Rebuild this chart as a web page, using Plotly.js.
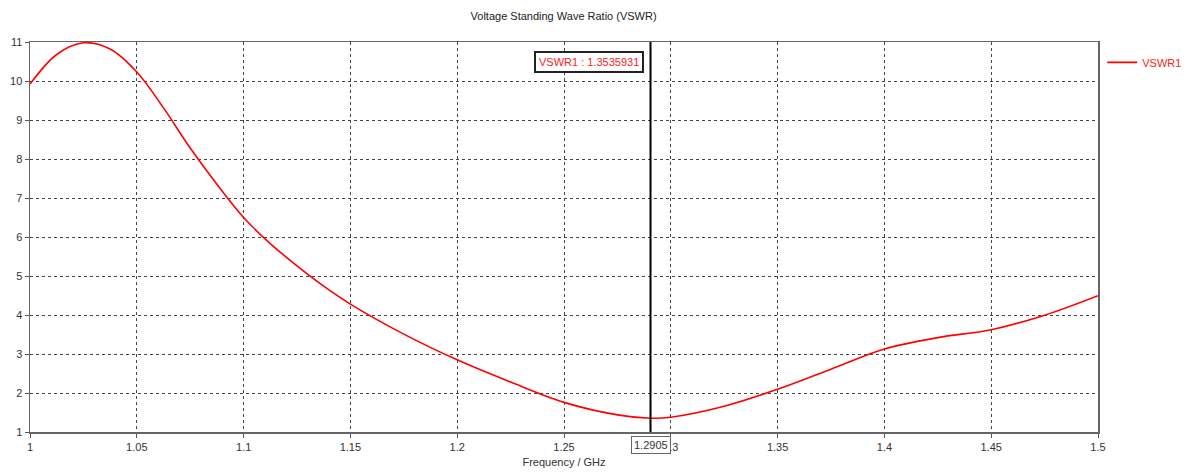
<!DOCTYPE html>
<html>
<head>
<meta charset="utf-8">
<script src="https://cdn.plot.ly/plotly-3.0.1.min.js"></script>
<style>html,body{margin:0;padding:0;background:#fff;}#chart{width:1189px;height:472px;}</style>
</head>
<body>
<div id="chart"></div>
<script>
const freq = [1.0, 1.0125, 1.025, 1.0375, 1.05, 1.0625, 1.075, 1.0875, 1.1, 1.1125, 1.125, 1.1375, 1.15, 1.175, 1.2, 1.225, 1.25, 1.275, 1.2905, 1.3, 1.325, 1.35, 1.375, 1.4, 1.425, 1.45, 1.475, 1.5];
const vswr = [9.92, 10.68, 10.98, 10.82, 10.23, 9.31, 8.28, 7.35, 6.5, 5.83, 5.26, 4.74, 4.28, 3.51, 2.85, 2.28, 1.76, 1.44, 1.354, 1.38, 1.66, 2.095, 2.61, 3.128, 3.42, 3.624, 3.995, 4.495];
const xTicks = [1, 1.05, 1.1, 1.15, 1.2, 1.25, 1.3, 1.35, 1.4, 1.45, 1.5];
const xTickText = ["1", "1.05", "1.1", "1.15", "1.2", "1.25", "1.3", "1.35", "1.4", "1.45", "1.5"];
const yTicks = [1, 2, 3, 4, 5, 6, 7, 8, 9, 10, 11];
const markerFreq = 1.2905;
const markerLabel = "VSWR1 : 1.3535931";
const markerFreqLabel = "1.2905";
const chartTitle = "Voltage Standing Wave Ratio (VSWR)";
const xTitle = "Frequency / GHz";
const seriesName = "VSWR1";

const font = "Liberation Sans, Arial, sans-serif";
const data = [{
  x: freq, y: vswr, type: 'scatter', mode: 'lines', name: seriesName,
  line: {color: '#ff0000', width: 1.6, shape: 'spline', smoothing: 1}
}];
const layout = {
  width: 1189, height: 472,
  margin: {l: 30, r: 91, t: 42, b: 40, autoexpand: false},
  paper_bgcolor: '#fff', plot_bgcolor: '#fff',
  font: {family: font, size: 11, color: '#333'},
  title: {text: chartTitle, font: {family: font, size: 11, color: '#222'}, x: 0.474, xanchor: 'center', y: 0.965, yanchor: 'middle'},
  showlegend: true,
  legend: {x: 1.004, y: 0.985, xanchor: 'left', yanchor: 'top', font: {color: '#ff2020', size: 11, family: font}, bgcolor: 'rgba(0,0,0,0)', itemwidth: 30},
  xaxis: {
    range: [1, 1.5], tickvals: xTicks, ticktext: xTickText,
    showgrid: true, gridcolor: '#444', griddash: 'dot', gridwidth: 1,
    showline: true, linecolor: '#666', linewidth: 1.5, mirror: true,
    ticks: 'outside', ticklen: 4, tickcolor: '#555',
    tickfont: {size: 11, color: '#333'}, zeroline: false,
    title: {text: xTitle, font: {size: 11, color: '#333'}, standoff: 6}
  },
  yaxis: {
    range: [1, 11], tickvals: yTicks,
    showgrid: true, gridcolor: '#444', griddash: 'dot', gridwidth: 1,
    showline: true, linecolor: '#666', linewidth: 1.5, mirror: true,
    ticks: 'outside', ticklen: 4, tickcolor: '#555',
    tickfont: {size: 11, color: '#333'}, zeroline: false
  },
  shapes: [{
    type: 'line', xref: 'x', yref: 'paper', x0: markerFreq, x1: markerFreq, y0: 0, y1: 1,
    line: {color: '#000', width: 2}
  }],
  annotations: [{
    xref: 'x', yref: 'paper', x: markerFreq, y: 0.948, xanchor: 'right', yanchor: 'middle', xshift: -7,
    text: markerLabel, showarrow: false, font: {color: '#ff2020', size: 11, family: font},
    bordercolor: '#222', borderwidth: 2, borderpad: 3, bgcolor: '#fff'
  }, {
    xref: 'x', yref: 'paper', x: markerFreq, y: 0, yshift: -13, xanchor: 'center', yanchor: 'middle',
    text: markerFreqLabel, showarrow: false, font: {color: '#333', size: 11, family: font},
    bordercolor: '#666', borderwidth: 1, borderpad: 2, bgcolor: '#fff'
  }]
};
Plotly.newPlot('chart', data, layout, {displayModeBar: false, staticPlot: true});
</script>
</body>
</html>
